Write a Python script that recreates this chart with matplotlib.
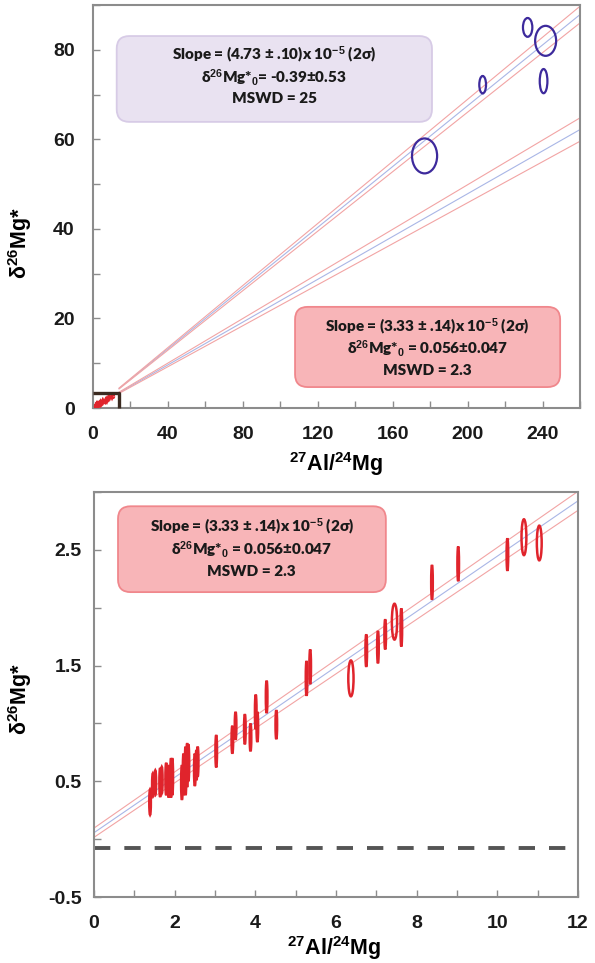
import numpy as np
import matplotlib
matplotlib.use('Agg')
import matplotlib.pyplot as plt
from matplotlib.patches import Ellipse, FancyBboxPatch
from matplotlib.ticker import MultipleLocator, FixedLocator

plt.rcParams['axes.unicode_minus'] = False
plt.rcParams['mathtext.fontset'] = 'custom'
plt.rcParams['mathtext.rm'] = 'Liberation Sans:bold'
plt.rcParams['mathtext.it'] = 'Liberation Sans:bold'
plt.rcParams['mathtext.bf'] = 'Liberation Sans:bold'

# --- data -------------------------------------------------------------
# purple (top panel) ellipses: 27Al/24Mg, d26Mg*, half axes
hib_x = [177.0, 208.0, 232.0, 241.6, 240.5]
hib_y = [56.3, 72.2, 85.0, 82.0, 73.0]
hib_xerr = [6.7, 1.8, 2.5, 5.6, 2.05]
hib_yerr = [3.9, 1.95, 2.1, 3.35, 2.7]

# red (bottom panel) ellipses
cai_x = [1.39, 1.46, 1.52, 1.64, 1.68, 1.79, 1.85, 1.91, 1.94, 2.18, 2.22, 2.27, 2.31, 2.34,
         2.50, 2.54, 2.57, 3.03, 3.43, 3.51, 3.74, 3.88, 4.01, 4.05, 4.28, 4.52, 5.27, 5.36,
         6.37, 6.75, 7.04, 7.22, 7.45, 7.62, 8.38, 9.03, 10.25, 10.66, 11.04]
cai_y = [0.32, 0.47, 0.49, 0.49, 0.51, 0.52, 0.50, 0.53, 0.54, 0.49, 0.56, 0.59, 0.64, 0.66,
         0.60, 0.64, 0.67, 0.76, 0.86, 0.98, 0.95, 0.88, 1.10, 0.97, 1.23, 0.99, 1.39, 1.49,
         1.39, 1.63, 1.66, 1.77, 1.88, 1.83, 2.22, 2.38, 2.46, 2.61, 2.56]
cai_yerr = [0.11, 0.10, 0.105, 0.125, 0.115, 0.14, 0.14, 0.17, 0.16, 0.15, 0.18, 0.21, 0.19, 0.16,
            0.14, 0.13, 0.13, 0.14, 0.12, 0.12, 0.13, 0.12, 0.15, 0.13, 0.14, 0.125, 0.15, 0.15,
            0.155, 0.14, 0.14, 0.13, 0.155, 0.165, 0.15, 0.15, 0.14, 0.155, 0.15]
cai_xerr = [0.02] * 28 + [0.065, 0.02, 0.02, 0.02, 0.065, 0.02, 0.02, 0.02, 0.02, 0.06, 0.06]

# isochron fits (slope in 26Al/27Al units, intercept in permil)
MG_RATIO = 0.13932          # (26Mg/24Mg) reference
K = 1000.0 / MG_RATIO
hib_slope, hib_slope_err, hib_int = 4.73e-5, 0.10e-5, -0.39
cai_slope, cai_slope_err, cai_int = 3.33e-5, 0.14e-5, 0.056
cai_int_band, cai_slope_band = 0.04, 0.0035   # envelope used in zoomed panel
dash_level = -0.08
zoom_box = (14.0, 3.4)

hib_text = ['Slope = (4.73 ± .10)x 10$^{-5}$ (2σ)',
            'δ$^{26}$Mg*$_{0}$= -0.39±0.53',
            'MSWD = 25']
cai_text = ['Slope = (3.33 ± .14)x 10$^{-5}$ (2σ)',
            'δ$^{26}$Mg*$_{0}$ = 0.056±0.047',
            'MSWD = 2.3']

PURPLE = '#3d2a9c'
RED = '#e0242c'
BLUE_LINE = '#a9b6e6'
PINK_LINE = '#f2a4a4'
SPINE = '#8c8c8c'
BOXFONT = ['Lato', 'DejaVu Sans']

fig = plt.figure(figsize=(5.95, 9.63), dpi=100)
ax1 = fig.add_axes([0.156, 0.5763, 0.819, 0.4185])
ax2 = fig.add_axes([0.158, 0.0685, 0.8134, 0.4205])


def style(ax):
    for s in ax.spines.values():
        s.set_color(SPINE); s.set_linewidth(1.5)
    ax.tick_params(which='both', direction='in', color=SPINE, width=1.0, length=5,
                   labelsize=14, labelcolor='#1a1a1a')
    for lab in ax.get_xticklabels() + ax.get_yticklabels():
        lab.set_fontweight('bold'); lab.set_fontfamily('Liberation Sans')


def fit_lines(ax, x, slope, icpt, up, lo):
    ax.plot(x, icpt + slope * x, color=BLUE_LINE, lw=0.8, zorder=2)
    ax.plot(x, up, color=PINK_LINE, lw=0.8, zorder=2)
    ax.plot(x, lo, color=PINK_LINE, lw=0.8, zorder=2)


def text_box(ax, x0, y0, x1, y1, lines, ys, xc, fc, ec, fs):
    w, h = x1 - x0, y1 - y0
    bb = ax.get_position()
    asp = (bb.width * 5.95) / (bb.height * 9.63)
    ax.add_patch(FancyBboxPatch((x0, y0), w, h, transform=ax.transAxes,
                                boxstyle='round,pad=0,rounding_size=0.026',
                                mutation_aspect=asp, fc=fc, ec=ec, lw=1.3, zorder=3))
    for t, yy in zip(lines, ys):
        ax.text(xc, yy, t, transform=ax.transAxes, ha='center', va='center',
                fontsize=fs, fontweight='heavy', family=BOXFONT, color='#1a1a1a', zorder=4)


# --- top panel ----------------------------------------------------------
ax1.set_xlim(0, 260); ax1.set_ylim(0, 90)
xx = np.linspace(zoom_box[0], 260, 50)
m, dm = hib_slope * K, hib_slope_err * K
fit_lines(ax1, xx, m, hib_int, hib_int + (m + dm) * xx, hib_int + (m - dm) * xx)
m, dm = cai_slope * K, cai_slope_err * K
fit_lines(ax1, xx, m, cai_int, cai_int + (m + dm) * xx, cai_int + (m - dm) * xx)
for x, y, ex, ey in zip(hib_x, hib_y, hib_xerr, hib_yerr):
    ax1.add_patch(Ellipse((x, y), 2 * ex, 2 * ey, fill=False, ec=PURPLE, lw=1.6, zorder=5))
for x, y, ex, ey in zip(cai_x, cai_y, cai_xerr, cai_yerr):
    ax1.add_patch(Ellipse((x, y), 2 * ex, 2 * ey, fill=False, ec=RED, lw=2.2, zorder=5))
ax1.plot([0, zoom_box[0], zoom_box[0]], [zoom_box[1], zoom_box[1], 0], color='#3b2a20',
         lw=2.4, zorder=6, clip_on=False, solid_capstyle='butt')
ax1.xaxis.set_major_locator(MultipleLocator(40)); ax1.xaxis.set_minor_locator(MultipleLocator(20))
ax1.yaxis.set_major_locator(MultipleLocator(20)); ax1.yaxis.set_minor_locator(MultipleLocator(10))
style(ax1)
ax1.tick_params(axis='both', which='major', pad=13)
ax1.set_ylabel('δ$^{26}$Mg*', fontsize=15.5, fontweight='bold', family='Liberation Sans')
ax1.yaxis.set_label_coords(-0.12, 0.41)
ax1.set_xlabel('$^{27}$Al/$^{24}$Mg', fontsize=15.5, fontweight='bold', family='Liberation Sans')
ax1.xaxis.set_label_coords(0.5, -0.14)
ax1.xaxis.label.set_va('center')
text_box(ax1, 0.049, 0.710, 0.696, 0.923, hib_text, [0.876, 0.821, 0.767], 0.372,
         '#e9e2f1', '#d7cbe6', 11)
text_box(ax1, 0.415, 0.052, 0.959, 0.251, cai_text, [0.201, 0.147, 0.094], 0.687,
         '#f8b5b8', '#f0878c', 11)

# --- bottom panel -------------------------------------------------------
ax2.set_xlim(0, 12); ax2.set_ylim(-0.5, 3.0)
xx = np.linspace(0, 12, 50)
m = cai_slope * K
fit_lines(ax2, xx, m, cai_int,
          cai_int + cai_int_band + (m + cai_slope_band) * xx,
          cai_int - cai_int_band + (m - cai_slope_band) * xx)
ax2.axhline(dash_level, color='#555555', lw=2.8, dashes=(4.2, 3.6), zorder=2)
for x, y, ex, ey in zip(cai_x, cai_y, cai_xerr, cai_yerr):
    ax2.add_patch(Ellipse((x, y), 2 * ex, 2 * ey, fill=False, ec=RED, lw=1.8, zorder=5))
ax2.xaxis.set_major_locator(MultipleLocator(2)); ax2.xaxis.set_minor_locator(MultipleLocator(1))
ax2.yaxis.set_major_locator(FixedLocator([-0.5, 0.5, 1.5, 2.5]))
ax2.yaxis.set_minor_locator(MultipleLocator(0.5))
style(ax2)
ax2.tick_params(axis='x', which='major', pad=13)
ax2.tick_params(axis='y', which='major', pad=9)
ax2.set_ylabel('δ$^{26}$Mg*', fontsize=15.5, fontweight='bold', family='Liberation Sans')
ax2.yaxis.set_label_coords(-0.125, 0.49)
ax2.set_xlabel('$^{27}$Al/$^{24}$Mg', fontsize=15.5, fontweight='bold', family='Liberation Sans')
ax2.xaxis.set_label_coords(0.495, -0.126)
ax2.xaxis.label.set_va('center')
text_box(ax2, 0.0496, 0.753, 0.603, 0.965, cai_text, [0.914, 0.859, 0.803], 0.326,
         '#f8b5b8', '#f0878c', 11)

fig.savefig('out.png', dpi=100)
